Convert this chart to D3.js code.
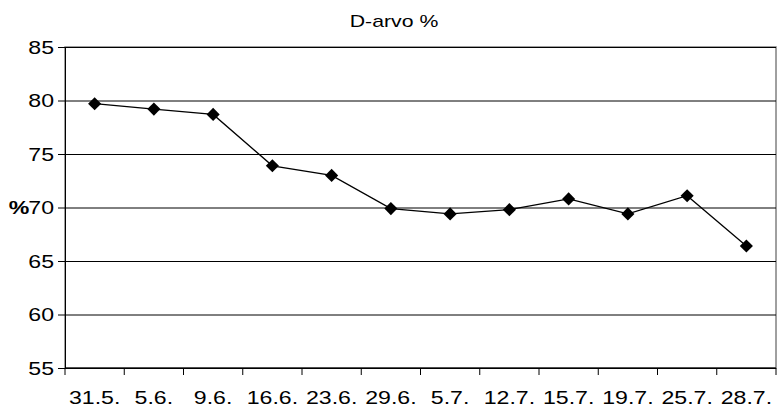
<!DOCTYPE html>
<html>
<head>
<meta charset="utf-8">
<script src="https://cdn.jsdelivr.net/npm/d3@7"></script>
<style>
  body { margin: 0; background: #fff; }
  svg { display: block; font-family: Arial, "Liberation Sans", sans-serif; }
</style>
</head>
<body>
<div class="linechart"></div>
<script>
const dates = ['31.5.', '5.6.', '9.6.', '16.6.', '23.6.', '29.6.', '5.7.', '12.7.', '15.7.', '19.7.', '25.7.', '28.7.'];
const dValues = [79.7, 79.2, 78.7, 73.9, 73.0, 69.9, 69.4, 69.8, 70.8, 69.4, 71.1, 66.4];
const yTicks = [55, 60, 65, 70, 75, 80, 85];

const svg = d3.select('.linechart').append('svg'),
  margin = { top: 47, right: 2, bottom: 39, left: 65 },
  width = 778 - margin.left - margin.right,
  height = 407 - margin.top - margin.bottom;

svg.attr('width', '778').attr('height', '407');

// the source picture is stretched sideways, so text is too
const stretch = 1.25;
function label(sel, x, y, size) {
  return sel.append('text')
    .attr('transform', 'translate(' + x + ',' + y + ') scale(' + stretch + ',1)')
    .attr('font-size', size)
    .attr('fill', '#000');
}

const x = d3.scaleBand().domain(dates).range([0, width]);
const y = d3.scaleLinear().domain([55, 85]).range([height, 0]);

const g = svg.append('g')
  .attr('transform', 'translate(' + margin.left + ',' + margin.top + ')');

// plot border (grey, Excel style)
g.append('rect')
  .attr('width', width).attr('height', height)
  .attr('fill', 'none').attr('stroke', '#808080').attr('stroke-width', 1.5);

// gridlines
g.append('g')
  .attr('class', 'grid')
  .call(d3.axisLeft(y).tickValues(yTicks).tickSize(-width).tickFormat(''))
  .call(s => s.select('.domain').remove())
  .selectAll('line').attr('stroke', '#000').attr('stroke-width', 1);

// y axis
const yAxis = g.append('g')
  .attr('class', 'y axis')
  .call(d3.axisLeft(y).tickValues(yTicks).tickSize(7).tickSizeOuter(0).tickFormat(''))
  .call(s => s.selectAll('line, path').attr('stroke', '#000'));

yTicks.forEach(function(t) {
  label(yAxis, -11, y(t) + 6.5, 18.5).attr('text-anchor', 'end').text(t);
});

// x axis: ticks sit between categories
const xAxis = g.append('g')
  .attr('class', 'x axis')
  .attr('transform', 'translate(0,' + height + ')');

xAxis.append('line')
  .attr('x1', 0).attr('x2', width)
  .attr('stroke', '#000');

xAxis.selectAll('.tick')
  .data(dates.concat(['end']))
  .enter().append('line')
  .attr('x1', (d, i) => i * x.bandwidth())
  .attr('x2', (d, i) => i * x.bandwidth())
  .attr('y1', 0).attr('y2', 7)
  .attr('stroke', '#000');

dates.forEach(function(d) {
  label(xAxis, x(d) + x.bandwidth() / 2, 36, 18.5).attr('text-anchor', 'middle').text(d);
});

// line + markers
const line = d3.line()
  .x((d, i) => x(dates[i]) + x.bandwidth() / 2)
  .y(d => y(d));

g.append('path')
  .datum(dValues)
  .attr('fill', 'none')
  .attr('stroke', '#000')
  .attr('stroke-width', 1.3)
  .attr('d', line);

g.selectAll('.marker')
  .data(dValues)
  .enter().append('path')
  .attr('class', 'marker')
  .attr('d', d3.symbol().type(d3.symbolDiamond2).size(110))
  .attr('transform', (d, i) => 'translate(' + (x(dates[i]) + x.bandwidth() / 2) + ',' + y(d) + ')')
  .attr('fill', '#000');

// title
label(svg, 394, 27, 17).attr('text-anchor', 'middle').text('D-arvo %');

// y axis title
label(svg, 19, y(70) + margin.top + 6.5, 18.5)
  .attr('text-anchor', 'middle')
  .attr('font-weight', 'bold')
  .text('%');
</script>
</body>
</html>
